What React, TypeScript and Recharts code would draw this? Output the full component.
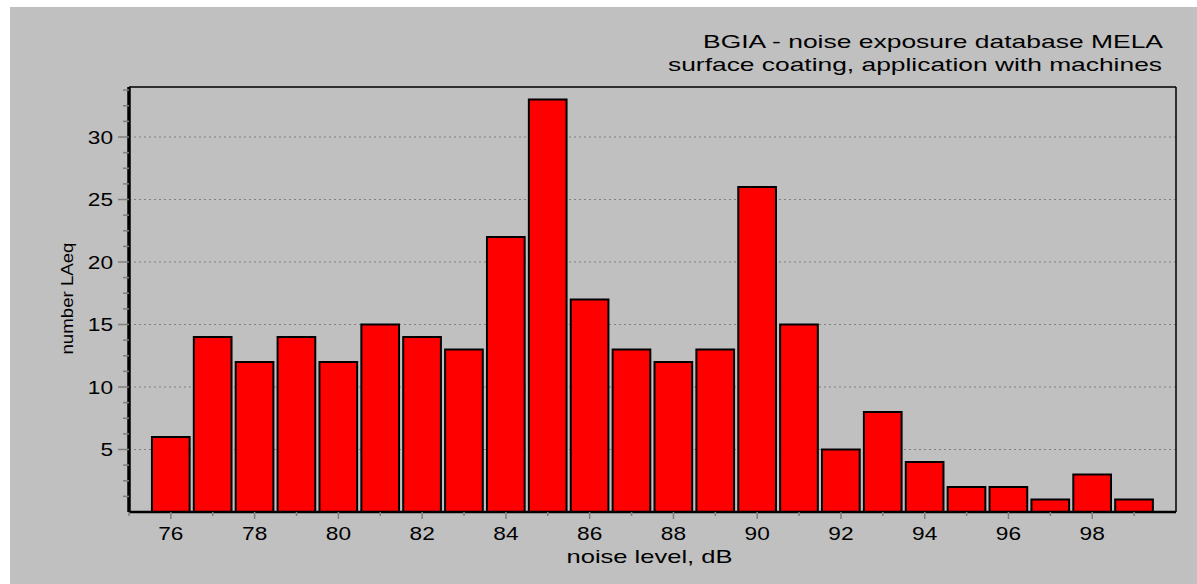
import React from 'react';
import { BarChart, Bar, XAxis, YAxis, CartesianGrid, ReferenceLine } from 'recharts';

// noise level bins (dB) and number of LAeq measurements
const LEVELS = [76, 77, 78, 79, 80, 81, 82, 83, 84, 85, 86, 87, 88, 89, 90, 91, 92, 93, 94, 95, 96, 97, 98, 99];
const COUNTS = [6, 14, 12, 14, 12, 15, 14, 13, 22, 33, 17, 13, 12, 13, 26, 15, 5, 8, 4, 2, 2, 1, 3, 1];

const X_TICKS = [75, 76, 77, 78, 79, 80, 81, 82, 83, 84, 85, 86, 87, 88, 89, 90, 91, 92, 93, 94, 95, 96, 97, 98, 99];
const Y_TICKS = [1.25, 2.5, 3.75, 5, 6.25, 7.5, 8.75, 10, 11.25, 12.5, 13.75, 15, 16.25, 17.5, 18.75, 20,
  21.25, 22.5, 23.75, 25, 26.25, 27.5, 28.75, 30, 31.25, 32.5, 33.75];
const GRID_VALUES = [5, 10, 15, 20, 25, 30];

const TITLE_1 = 'BGIA - noise exposure database MELA';
const TITLE_2 = 'surface coating, application with machines';

const data = LEVELS.map((level, i) => ({ level, count: COUNTS[i] }));

const FONT = '"Liberation Sans", Arial, sans-serif';
const W = 1187;
const H = 577;

// the original text is drawn wide, so stretch glyphs to the measured widths
const wide = (s: string) => String(s).length * 12.6;

const XTick = ({ x, y, payload }: any) => {
  const major = payload.value % 2 === 0;
  return (
    <g>
      <line x1={x} y1={y} x2={x} y2={y + (major ? 7 : 4)} stroke="#808080" strokeWidth={1.5} />
      {major && (
        <text x={x} y={y + 28} textAnchor="middle" fontFamily={FONT} fontSize={18.5}
          textLength={wide(payload.value)} lengthAdjust="spacingAndGlyphs" fill="#000">
          {payload.value}
        </text>
      )}
    </g>
  );
};

const YTick = ({ x, y, payload }: any) => {
  const major = payload.value % 5 === 0;
  return (
    <g>
      <line x1={x - (major ? 11 : 6)} y1={y} x2={x} y2={y} stroke="#808080" strokeWidth={1.5} />
      {major && (
        <text x={x - 16} y={y} dy={6.5} textAnchor="end" fontFamily={FONT} fontSize={18.5}
          textLength={wide(payload.value)} lengthAdjust="spacingAndGlyphs" fill="#000">
          {payload.value}
        </text>
      )}
    </g>
  );
};

const XLabel = ({ viewBox }: any) => (
  <text x={viewBox.x + viewBox.width / 2 - 3} y={viewBox.y + 51} textAnchor="middle"
    fontFamily={FONT} fontSize={18.5} textLength={166} lengthAdjust="spacingAndGlyphs" fill="#000">
    noise level, dB
  </text>
);

const YLabel = ({ viewBox }: any) => {
  const cx = 57.5;
  const cy = viewBox.y + viewBox.height / 2 - 1;
  return (
    <text x={cx} y={cy} transform={`rotate(-90 ${cx} ${cy})`} textAnchor="middle" dominantBaseline="central"
      fontFamily={FONT} fontSize={17} textLength={112} lengthAdjust="spacingAndGlyphs" fill="#000">
      number LAeq
    </text>
  );
};

export default function App() {
  return (
    <div style={{ position: 'fixed', left: 10, top: 7, width: W, height: H, background: '#c0c0c0' }}>
      <svg width={W} height={H} style={{ position: 'absolute', left: 0, top: 0 }}>
        <text x={1153} y={41} textAnchor="end" fontFamily={FONT} fontSize={19} textLength={460}
          lengthAdjust="spacingAndGlyphs" fill="#000">
          {TITLE_1}
        </text>
        <text x={1152} y={63.5} textAnchor="end" fontFamily={FONT} fontSize={19} textLength={494}
          lengthAdjust="spacingAndGlyphs" fill="#000">
          {TITLE_2}
        </text>
      </svg>
      <div style={{ position: 'absolute', left: 0, top: 0 }}>
        <BarChart width={W} height={H} data={data} margin={{ top: 80, right: 21, bottom: 0, left: 0 }}>
          <CartesianGrid vertical={false} horizontalValues={GRID_VALUES} stroke="#808080"
            strokeDasharray="2 3" strokeWidth={1.2} />
          <XAxis dataKey="level" type="number" domain={[75, 100]} ticks={X_TICKS} interval={0}
            height={72} tickSize={0} tickMargin={0} tickLine={false} tick={<XTick />}
            axisLine={{ stroke: '#000', strokeWidth: 2.5 }} label={<XLabel />} />
          <YAxis type="number" domain={[0, 34]} ticks={Y_TICKS} interval={0} width={119}
            tickSize={0} tickMargin={0} tickLine={false} tick={<YTick />}
            axisLine={{ stroke: '#000', strokeWidth: 3.5 }} label={<YLabel />} />
          <ReferenceLine y={34} stroke="#000" strokeWidth={1.5} />
          <ReferenceLine x={100} stroke="#000" strokeWidth={1.5} />
          <Bar dataKey="count" fill="#ff0000" stroke="#000" strokeWidth={2} barSize={41.88}
            isAnimationActive={false} />
        </BarChart>
      </div>
    </div>
  );
}
